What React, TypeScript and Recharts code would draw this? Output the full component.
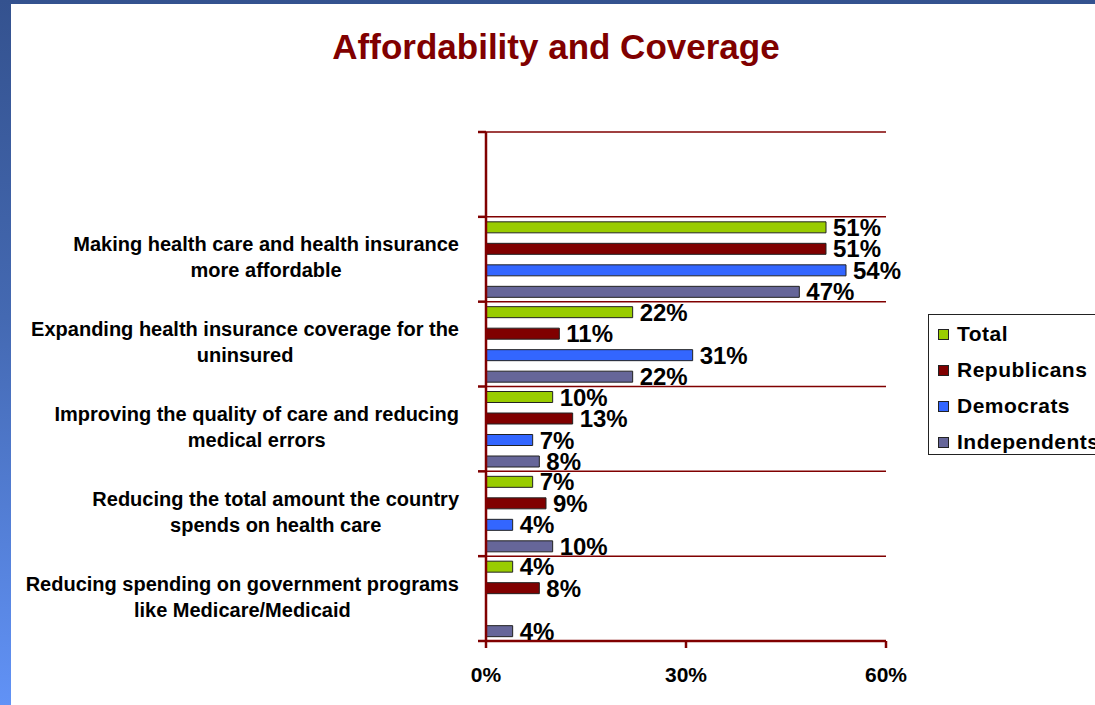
import React from 'react';
import {
  BarChart,
  Bar,
  XAxis,
  YAxis,
  CartesianGrid,
  LabelList,
  Legend,
} from 'recharts';

const categories = [
  '',
  'Making health care and health insurance\nmore affordable',
  'Expanding health insurance coverage for the\nuninsured',
  'Improving the quality of care and reducing\nmedical errors',
  'Reducing the total amount the country\nspends on health care',
  'Reducing spending on government programs\nlike Medicare/Medicaid',
];
const total = [null, 51, 22, 10, 7, 4];
const republicans = [null, 51, 11, 13, 9, 8];
const democrats = [null, 54, 31, 7, 4, null];
const independents = [null, 47, 22, 8, 10, 4];
const xTicks = [0, 30, 60];

const series = [
  { key: 'total', name: 'Total', color: '#99CC00' },
  { key: 'republicans', name: 'Republicans', color: '#800000' },
  { key: 'democrats', name: 'Democrats', color: '#3366FF' },
  { key: 'independents', name: 'Independents', color: '#666699' },
];

const data = categories.map((name, i) => ({
  name,
  total: total[i],
  republicans: republicans[i],
  democrats: democrats[i],
  independents: independents[i],
}));

const W = 1095;
const H = 705;
const AXIS_X = 486;
const PLOT_TOP = 132;
const PLOT_BOTTOM = 641;
const PLOT_RIGHT = 886;
const X_AXIS_H = 50;
const DARK_RED = '#800000';
const FONT = '"Liberation Sans", Arial, Helvetica, sans-serif';

let ctx: CanvasRenderingContext2D | null = null;
const textWidth = (s: string, font: string) => {
  if (!ctx) ctx = document.createElement('canvas').getContext('2d');
  if (!ctx) return s.length * 10;
  ctx.font = font;
  return ctx.measureText(s).width;
};

const CategoryTick = (props: any) => {
  const { y, payload, index } = props;
  const band = (PLOT_BOTTOM - PLOT_TOP) / categories.length;
  const lines = String(payload.value).split('\n').filter(Boolean);
  const font = `bold 20px ${FONT}`;
  const w = Math.max(0, ...lines.map((l) => textWidth(l, font)));
  const cx = AXIS_X - 27 - w / 2;
  return (
    <g>
      <line x1={AXIS_X - 8} x2={AXIS_X} y1={y - band / 2} y2={y - band / 2} stroke={DARK_RED} strokeWidth={2.5} />
      {index === categories.length - 1 && (
        <line x1={AXIS_X - 8} x2={AXIS_X} y1={y + band / 2} y2={y + band / 2} stroke={DARK_RED} strokeWidth={2.5} />
      )}
      {lines.map((l, i) => (
        <text
          key={i}
          x={cx}
          y={y - 8 + i * 26}
          textAnchor="middle"
          fontFamily={FONT}
          fontWeight="bold"
          fontSize={20}
          fill="#000"
        >
          {l}
        </text>
      ))}
    </g>
  );
};

const PercentTick = (props: any) => {
  const { x, payload } = props;
  return (
    <text
      x={x}
      y={PLOT_BOTTOM + 41}
      textAnchor="middle"
      fontFamily={FONT}
      fontWeight="bold"
      fontSize={21}
      fill="#000"
    >
      {`${payload.value}%`}
    </text>
  );
};

const LegendBox = () => (
  <div
    style={{
      width: 180,
      height: 141,
      border: '1.5px solid #222',
      background: '#fff',
      boxSizing: 'border-box',
      paddingTop: 1,
      fontFamily: FONT,
    }}
  >
    {series.map((s) => (
      <div key={s.key} style={{ height: 36, display: 'flex', alignItems: 'center' }}>
        <span
          style={{
            width: 11,
            height: 11,
            marginLeft: 9,
            marginRight: 8,
            background: s.color,
            border: '1px solid #222',
            boxSizing: 'border-box',
            flex: 'none',
          }}
        />
        <span style={{ fontSize: 21, fontWeight: 'bold', letterSpacing: 0.5, whiteSpace: 'nowrap', color: '#000' }}>
          {s.name}
        </span>
      </div>
    ))}
  </div>
);

export default function App() {
  return (
    <div
      style={{
        position: 'absolute',
        left: 0,
        top: 0,
        width: W,
        height: H,
        overflow: 'hidden',
        background: 'linear-gradient(180deg, #34528f 0%, #4469b2 45%, #6192f6 100%)',
      }}
    >
      <div style={{ position: 'absolute', left: 11, top: 4, right: 0, bottom: 0, background: '#fff' }} />
      <div
        style={{
          position: 'absolute',
          left: 17,
          width: 1078,
          top: 29,
          lineHeight: '35px',
          textAlign: 'center',
          fontFamily: FONT,
          fontWeight: 'bold',
          fontSize: 35,
          color: DARK_RED,
        }}
      >
        Affordability and Coverage
      </div>
      <div style={{ position: 'absolute', left: 0, top: 0 }}>
        <BarChart
          width={W}
          height={H}
          data={data}
          layout="vertical"
          barGap={10.5}
          margin={{ top: PLOT_TOP, right: W - PLOT_RIGHT, bottom: H - PLOT_BOTTOM - X_AXIS_H, left: 0 }}
        >
          <CartesianGrid
            vertical={false}
            stroke={DARK_RED}
            strokeWidth={1.5}
            horizontalCoordinatesGenerator={({ offset }: any) =>
              categories.map((_, i) => offset.top + (i * offset.height) / categories.length)
            }
          />
          <XAxis
            type="number"
            domain={[0, 60]}
            ticks={xTicks}
            height={X_AXIS_H}
            axisLine={{ stroke: DARK_RED, strokeWidth: 2.5 }}
            tickLine={{ stroke: DARK_RED, strokeWidth: 2.5 }}
            tickSize={7}
            tick={<PercentTick />}
            interval={0}
          />
          <YAxis
            type="category"
            dataKey="name"
            width={AXIS_X}
            axisLine={{ stroke: DARK_RED, strokeWidth: 2.5 }}
            tickLine={false}
            tick={<CategoryTick />}
            interval={0}
          />
          <Legend
            layout="vertical"
            align="center"
            verticalAlign="middle"
            content={<LegendBox />}
            wrapperStyle={{ left: 928, top: 314, width: 180 }}
          />
          {series.map((s) => (
            <Bar
              key={s.key}
              dataKey={s.key}
              name={s.name}
              fill={s.color}
              stroke="#222"
              strokeWidth={1}
              barSize={11}
              isAnimationActive={false}
            >
              <LabelList
                dataKey={s.key}
                position="right"
                offset={7}
                formatter={(v: any) => (v == null ? '' : `${v}%`)}
                style={{ fontFamily: FONT, fontWeight: 'bold', fontSize: 24, fill: '#000' }}
              />
            </Bar>
          ))}
        </BarChart>
      </div>
    </div>
  );
}
